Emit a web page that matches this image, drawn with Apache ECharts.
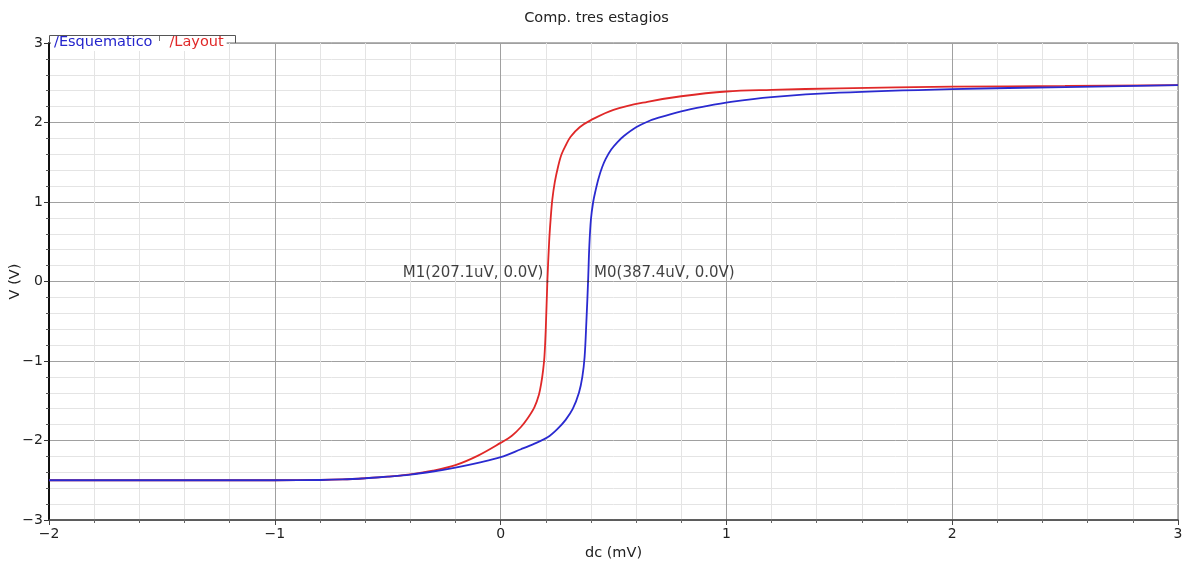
<!DOCTYPE html>
<html>
<head>
<meta charset="utf-8">
<script src="https://cdn.jsdelivr.net/npm/echarts@6/dist/echarts.min.js"></script>
<style>html,body{margin:0;padding:0;background:#fff}#c{width:1193px;height:562px}</style>
</head>
<body>
<div id="c"></div>
<script>
const titleText = 'Comp. tres estagios';
const xAxisName = 'dc (mV)';
const yAxisName = 'V (V)';
const seriesNames = ['Esquematico', 'Layout'];

const esqX = [-2, -1, -0.8, -0.7, -0.6, -0.5, -0.4, -0.3, -0.2, -0.1, 0, 0.09, 0.15, 0.208, 0.25, 0.288, 0.32, 0.347, 0.362, 0.372, 0.38, 0.3874, 0.393, 0.40, 0.41, 0.421, 0.434, 0.45, 0.465, 0.49, 0.52, 0.546, 0.6, 0.65, 0.7, 0.8, 0.9, 1.02, 1.2, 1.5, 2, 2.5, 3];
const esqY = [-2.5, -2.5, -2.497, -2.49, -2.475, -2.455, -2.43, -2.39, -2.34, -2.28, -2.21, -2.11, -2.04, -1.96, -1.86, -1.74, -1.60, -1.40, -1.2, -0.95, -0.5, 0, 0.45, 0.78, 1.0, 1.15, 1.3, 1.44, 1.54, 1.66, 1.76, 1.83, 1.94, 2.01, 2.06, 2.14, 2.20, 2.26, 2.32, 2.375, 2.42, 2.445, 2.47];

const layX = [-2, -1, -0.8, -0.7, -0.6, -0.5, -0.4, -0.3, -0.2, -0.1, 0, 0.05, 0.09, 0.12, 0.15, 0.17, 0.18, 0.188, 0.194, 0.2, 0.2071, 0.215, 0.222, 0.229, 0.24, 0.255, 0.27, 0.29, 0.31, 0.35, 0.4, 0.5, 0.65, 0.8, 1.0, 1.2, 1.5, 2, 2.5, 3];
const layY = [-2.5, -2.5, -2.497, -2.49, -2.475, -2.455, -2.425, -2.38, -2.31, -2.19, -2.03, -1.94, -1.83, -1.72, -1.58, -1.42, -1.28, -1.12, -0.95, -0.6, 0, 0.5, 0.8, 1.03, 1.25, 1.45, 1.6, 1.72, 1.82, 1.94, 2.03, 2.16, 2.26, 2.33, 2.39, 2.41, 2.43, 2.45, 2.46, 2.47];

const markerLabels = ['M1(207.1uV, 0.0V)', 'M0(387.4uV, 0.0V)'];
const markerX = [0.2071, 0.3874];
const markerY = [0, 0];

const zip = (xs, ys) => xs.map((x, i) => [x, ys[i]]);
const fmt = v => String(v).replace('-', '\u2212');
const FONT = 'DejaVu Sans';

const chart = echarts.init(document.getElementById('c'));
chart.setOption({
  animation: false,
  title: {
    text: titleText, left: 'center', top: 6,
    textStyle: { fontFamily: FONT, fontSize: 14.5, fontWeight: 'normal', color: '#222' }
  },
  legend: {
    left: 51, top: 35, padding: [0, 3, 1, 3], itemGap: 17, itemWidth: 0, itemHeight: 0,
    icon: 'none', backgroundColor: '#fff', selectedMode: false,
    formatter: '/{name}',
    textStyle: { fontFamily: FONT, fontSize: 14.5, padding: [0, 0, 0, -5] },
    data: [
      { name: seriesNames[0], textStyle: { color: '#2424cc' } },
      { name: seriesNames[1], textStyle: { color: '#e02828' } }
    ]
  },
  graphic: [
    { type: 'polyline', z: 100, shape: { points: [[49.5, 43], [49.5, 35.5], [235.5, 35.5], [235.5, 43]] }, style: { stroke: '#555', lineWidth: 1, fill: null } },
    { type: 'line', z: 100, shape: { x1: 159.5, y1: 36, x2: 159.5, y2: 41 }, style: { stroke: '#777', lineWidth: 1 } }
  ],
  grid: { left: 49, right: 15, top: 43, bottom: 42, outerBoundsMode: 'none', containLabel: false, show: true, borderColor: '#666', borderWidth: 1, backgroundColor: '#fff' },
  xAxis: {
    type: 'value', min: -2, max: 3, interval: 1,
    name: xAxisName, nameLocation: 'middle', nameGap: 23,
    nameTextStyle: { fontFamily: FONT, fontSize: 14.5, color: '#222' },
    axisLine: { onZero: false, lineStyle: { color: '#444', width: 1.5 } },
    axisTick: { show: true, length: 5, lineStyle: { color: '#444' } },
    minorTick: { show: true, splitNumber: 5, length: 3, lineStyle: { color: '#666' } },
    axisLabel: { fontFamily: FONT, fontSize: 14, color: '#222', margin: 7, formatter: fmt },
    splitLine: { show: true, lineStyle: { color: '#a0a0a0', width: 1 } },
    minorSplitLine: { show: true, lineStyle: { color: '#e4e4e4', width: 1 } }
  },
  yAxis: {
    type: 'value', min: -3, max: 3, interval: 1,
    name: yAxisName, nameLocation: 'middle', nameGap: 26, nameMoveOverlap: false,
    nameTextStyle: { fontFamily: FONT, fontSize: 14.5, color: '#222' },
    axisLine: { onZero: false, lineStyle: { color: '#111', width: 2 } },
    axisTick: { show: true, length: 5, lineStyle: { color: '#333' } },
    minorTick: { show: true, splitNumber: 5, length: 3, lineStyle: { color: '#555' } },
    axisLabel: { fontFamily: FONT, fontSize: 14, color: '#222', margin: 6, formatter: fmt },
    splitLine: { show: true, lineStyle: { color: '#a0a0a0', width: 1 } },
    minorSplitLine: { show: true, lineStyle: { color: '#e4e4e4', width: 1 } }
  },
  series: [
    {
      name: seriesNames[0], type: 'line', data: zip(esqX, esqY), smooth: 0.35,
      showSymbol: false, color: '#2a2ad0', lineStyle: { width: 1.8, color: '#2a2ad0' }, z: 3
    },
    {
      name: seriesNames[1], type: 'line', data: zip(layX, layY), smooth: 0.35,
      showSymbol: false, color: '#e02828', lineStyle: { width: 1.8, color: '#e02828' }, z: 2
    },
    {
      name: 'markers', type: 'scatter', symbol: 'circle', symbolSize: 2, z: 5,
      itemStyle: { color: '#333' },
      data: markerX.map((x, i) => ({
        value: [x, markerY[i]],
        label: {
          show: true, formatter: markerLabels[i],
          position: i === 0 ? 'left' : 'right',
          distance: i === 0 ? 3 : 5,
          offset: [0, -8],
          fontFamily: FONT, fontSize: 15, color: '#111', textBorderWidth: 0
        }
      }))
    }
  ]
});
</script>
</body>
</html>
